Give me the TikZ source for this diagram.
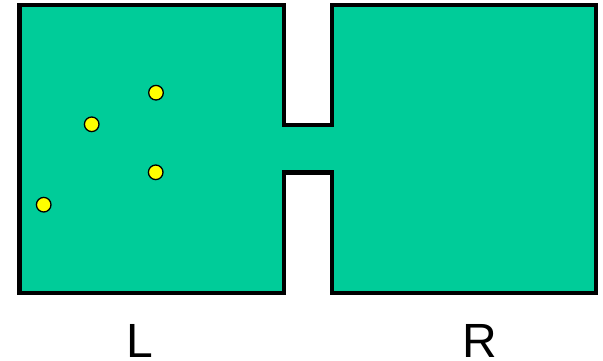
\documentclass[tikz,border=0pt]{standalone}
\usepackage{fontspec}
\setmainfont{Liberation Sans}
\definecolor{chamber}{HTML}{00CC99}
\definecolor{particle}{HTML}{FFFF00}
\begin{document}
\begin{tikzpicture}[x=1pt,y=-1pt,
  wall/.style={draw=black,line width=4.7pt,fill=chamber,line join=miter},
  molecule/.style={circle,draw=black,line width=1.3pt,fill=particle,minimum size=14.6pt,inner sep=0pt},
  sidelabel/.style={anchor=base,inner sep=0pt,font=\fontsize{48}{56}\selectfont}]
\useasboundingbox (0,0) rectangle (603,361);
\draw[wall] (19.5,5) -- (284,5) -- (284,125) -- (332,125) -- (332,5) -- (596,5)
  -- (596,293) -- (332,293) -- (332,172.5) -- (284,172.5) -- (284,293) -- (19.5,293) -- cycle;
\node[molecule] (m1) at (156,92.7) {};
\node[molecule] (m2) at (91.7,124.3) {};
\node[molecule] (m3) at (155.7,172.3) {};
\node[molecule] (m4) at (43.7,204.7) {};
\node[sidelabel] (L) at (140,357) {L};
\node[sidelabel] (R) at (480,357) {R};
\end{tikzpicture}
\end{document}
